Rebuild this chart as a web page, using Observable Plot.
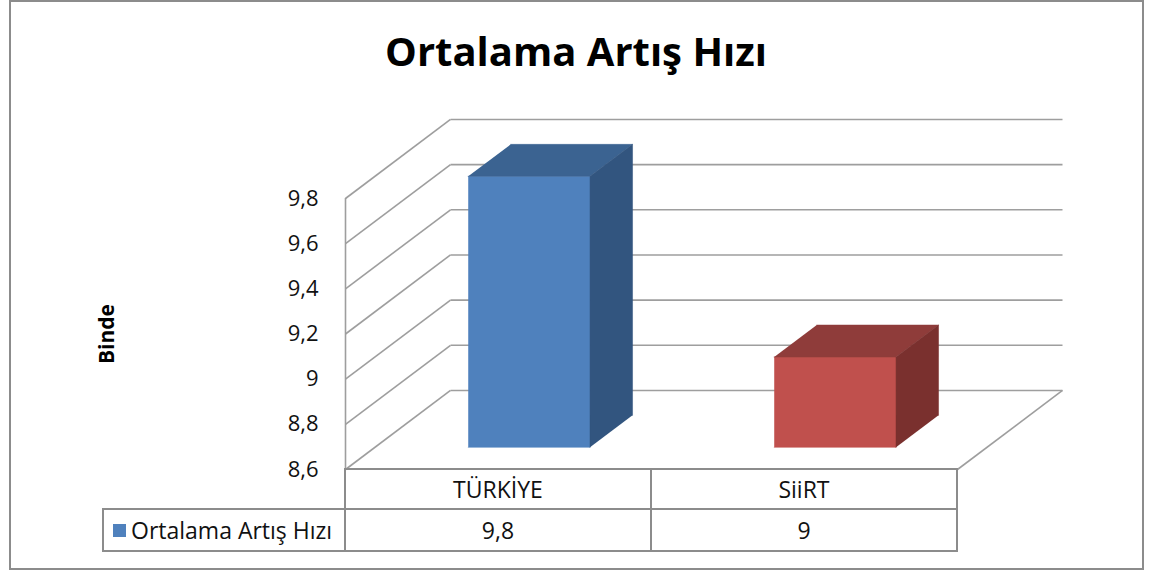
<!DOCTYPE html>
<html>
<head>
<meta charset="utf-8">
<script src="https://cdn.jsdelivr.net/npm/d3@7"></script>
<script src="https://cdn.jsdelivr.net/npm/@observablehq/plot@0.6"></script>
<style>
  html, body { margin: 0; padding: 0; background: #fff; }
  body { width: 1152px; height: 571px; position: relative; overflow: hidden; font-family: "Open Sans", sans-serif; }
  #frame { position: absolute; left: 9px; top: 0; width: 1135px; height: 570px; border: 2px solid #8c8c8c; box-sizing: border-box; }
  #title { position: absolute; left: 0; top: 31px; width: 1152px; text-align: center; font: bold 40px/1 "Open Sans", sans-serif; color: #000; white-space: nowrap; }
  #chart { position: absolute; left: 0; top: 100px; }
  #tbl { position: absolute; left: 102px; top: 468px; display: grid; grid-template-columns: 244px 306px 306px; grid-template-rows: 42px 42px; }
  #tbl div { box-sizing: border-box; border-right: 2px solid #8c8c8c; border-bottom: 2px solid #8c8c8c; display: flex; align-items: center; justify-content: center; font-size: 23px; color: #111; white-space: nowrap; }
  #tbl .r1 { border-top: 2px solid #8c8c8c; }
  #tbl .blank { border-top: none; }
  #tbl .leg { border-left: 2px solid #8c8c8c; justify-content: flex-start; padding-left: 9px; }
  #tbl .sw { display: inline-block; width: 13px; height: 13px; margin-right: 5px; border: none; }
</style>
</head>
<body>
<div id="frame"></div>
<div id="title"></div>
<div id="chart"></div>
<div id="tbl"></div>
<script>
// ---- data ----
const titleText = "Ortalama Artış Hızı";
const axisTitle = "Binde";
const seriesName = "Ortalama Artış Hızı";
const categories = ["TÜRKİYE", "SiiRT"];
const values = [9.8, 9];
const valueLabels = ["9,8", "9"];
const yTicks = [8.6, 8.8, 9.0, 9.2, 9.4, 9.6, 9.8];
const tickLabels = ["8,6", "8,8", "9", "9,2", "9,4", "9,6", "9,8"];

// ---- styles ----
const frontColors = ["#4F81BD", "#C0504D"];
const topColors = ["#3B6391", "#8F3C3A"];
const sideColors = ["#32557F", "#7A302E"];
const gridColor = "#9e9e9e";

// ---- 3D projection (depth expressed in scale units) ----
const DEPTH_X = 105 / 306;   // x units of full depth
const DEPTH_Y = 0.35;        // y units of full depth
const BAR_X0 = 0.305, BAR_X1 = 0.703;   // bar extent within a category
const BAR_D0 = 0.28, BAR_D1 = 0.685;    // bar extent in depth
const base = yTicks[0];
const n = categories.length;
const proj = (x, d, y) => ({X: x + d * DEPTH_X, Y: y + d * DEPTH_Y});

const faces = [];
categories.forEach((c, i) => {
  const v = values[i];
  const xa = i + BAR_X0, xb = i + BAR_X1;
  const polys = [
    {kind: "front", color: frontColors[i], pts: [[xa, BAR_D0, base], [xb, BAR_D0, base], [xb, BAR_D0, v], [xa, BAR_D0, v]]},
    {kind: "top", color: topColors[i], pts: [[xa, BAR_D0, v], [xb, BAR_D0, v], [xb, BAR_D1, v], [xa, BAR_D1, v]]},
    {kind: "side", color: sideColors[i], pts: [[xb, BAR_D0, base], [xb, BAR_D0, v], [xb, BAR_D1, v], [xb, BAR_D1, base]]}
  ];
  polys.forEach(p => p.pts.forEach(([x, d, y]) => faces.push({id: c + "-" + p.kind, color: p.color, ...proj(x, d, y)})));
});

const plot = Plot.plot({
  width: 1152,
  height: 375,
  marginLeft: 345,
  marginRight: 195,
  marginTop: 98,
  marginBottom: 6,
  x: {domain: [0, n], axis: null},
  y: {domain: [yTicks[0], yTicks[yTicks.length - 1]], axis: null},
  color: {type: "identity"},
  style: {fontFamily: "'Open Sans', sans-serif", fontSize: "20px", background: "transparent", overflow: "visible"},
  marks: [
    // left wall
    Plot.ruleX([0], {y1: yTicks[0], y2: yTicks[yTicks.length - 1], stroke: gridColor, strokeWidth: 1.6}),
    Plot.link(yTicks, {x1: 0, y1: d => d, x2: DEPTH_X, y2: d => d + DEPTH_Y, stroke: gridColor, strokeWidth: 1.6}),
    // back wall gridlines
    Plot.link(yTicks, {x1: DEPTH_X, y1: d => d + DEPTH_Y, x2: n + DEPTH_X, y2: d => d + DEPTH_Y, stroke: gridColor, strokeWidth: 1.6}),
    // floor right edge
    Plot.link([base], {x1: n, y1: d => d, x2: n + DEPTH_X, y2: d => d + DEPTH_Y, stroke: gridColor, strokeWidth: 1.6}),
    // bars
    Plot.line(faces, {x: "X", y: "Y", z: "id", fill: "color", stroke: "color", strokeWidth: 0.5}),
    // axis
    Plot.axisY(yTicks, {tickSize: 0, tickPadding: 27, tickFormat: d => tickLabels[yTicks.indexOf(d)], fontSize: 22, fill: "#111", label: null}),
    Plot.text([axisTitle], {frameAnchor: "left", textAnchor: "middle", lineAnchor: "middle", rotate: -90, dx: -238, fontWeight: "bold", fontSize: 21, fill: "#000"})
  ]
});
document.getElementById("chart").appendChild(plot);

document.getElementById("title").textContent = titleText;

// data table below the chart
const tbl = document.getElementById("tbl");
const cell = (cls, html) => { const d = document.createElement("div"); d.className = cls; d.innerHTML = html; tbl.appendChild(d); return d; };
cell("blank", "");
categories.forEach(c => cell("r1", c));
const leg = cell("leg", "");
const sw = document.createElement("span"); sw.className = "sw"; sw.style.background = frontColors[0]; leg.appendChild(sw);
leg.appendChild(document.createTextNode(seriesName));
valueLabels.forEach(v => cell("", v));
</script>
</body>
</html>
